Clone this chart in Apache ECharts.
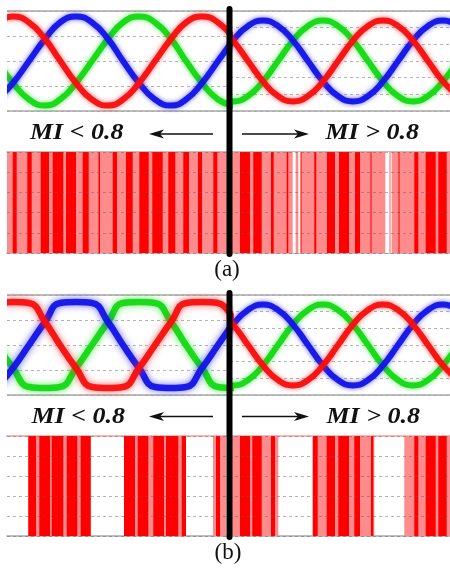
<!DOCTYPE html>
<html><head><meta charset="utf-8">
<script src="https://cdn.jsdelivr.net/npm/echarts@6/dist/echarts.min.js"></script>
<style>html,body{margin:0;padding:0;background:#fff}#c{width:450px;height:569px}</style>
</head><body><div id="c"></div>
<script>
// ---------- waveform samples (x = time position, y = per-unit value) ----------
const leftX  = [-3,13,29,45,60,76,92,108,123,139,155,171,186,202,218,234];
const rightX = [218,233,248,263,278,293,308,323,338,353,368,383,398,413,428,443,458];

// (a) MI < 0.8
const aLeftRed   = [0.77,0.89,0.77,0.44,0.01,-0.44,-0.77,-0.89,-0.77,-0.44,0.0,0.44,0.77,0.89,0.77,0.44];
const aLeftBlue  = [-0.77,-0.44,0.0,0.44,0.77,0.89,0.77,0.44,0.0,-0.44,-0.77,-0.89,-0.77,-0.44,0.0,0.44];
const aLeftGreen = [0.0,-0.44,-0.77,-0.89,-0.77,-0.44,0.0,0.44,0.77,0.89,0.77,0.44,0.0,-0.44,-0.77,-0.89];
// (a)/(b) MI > 0.8
const rightRed   = [0.84,0.49,0.0,-0.49,-0.84,-0.97,-0.84,-0.49,0.0,0.49,0.84,0.97,0.84,0.49,0.0,-0.49,-0.84];
const rightBlue  = [0.0,0.49,0.84,0.97,0.84,0.49,0.0,-0.49,-0.84,-0.97,-0.84,-0.49,0.0,0.49,0.84,0.97,0.84];
const rightGreen = [-0.84,-0.97,-0.84,-0.49,0.0,0.49,0.84,0.97,0.84,0.49,0.0,-0.49,-0.84,-0.97,-0.84,-0.49,0.0];
// (b) MI < 0.8 (flattened tops)
const bLeftRed   = [0.84,0.86,0.84,0.46,0.0,-0.46,-0.84,-0.86,-0.84,-0.46,0.0,0.46,0.84,0.86,0.84,0.46];
const bLeftBlue  = [-0.84,-0.46,0.0,0.46,0.84,0.86,0.84,0.46,0.0,-0.46,-0.84,-0.86,-0.84,-0.46,0.0,0.46];
const bLeftGreen = [0.0,-0.46,-0.84,-0.86,-0.84,-0.46,0.0,0.46,0.84,0.86,0.84,0.46,0.0,-0.46,-0.84,-0.86];

// ---------- switching pulse intervals [start, end] ----------
const aLight = [[7,450]];
const aDark = [[12.7,16.7],[27.3,31.7],[40.7,49],[52.7,63.3],[66,76],[82.7,88.7],[98.5,100],[112.7,117],
  [126,132.7],[139.3,148.7],[152.3,162.7],[168.3,175.3],[183.3,189],[198,202],[213.3,217.3],
  [240,250],[253.3,261.7],[271,273.7],[286.7,288.3],[300.5,301.5],[314.3,316.3],[327,335],[339,349],
  [355,360],[370.5,371.5],[398.5,399.5],[414.3,418.3],[425.7,435.7],[438.3,446.7]];
const aWhite = [[292.7,295.7],[298.3,300.3],[385.3,389.3],[390.7,391.7]];

const bLight = [[28.3,90.7],[124,186],[213,226],[232,278.3],[312.3,374.3],[404.3,450]];
const bDark = [[28.3,36],[39.3,50],[51.7,63.3],[66.7,77.3],[80.7,90.7],[124,135],[137.7,148.3],
  [153.3,164],[166,178.3],[181.7,186],[216,220],
  [240,250],[252.3,261.7],[271,275],[313,317.7],[326.7,335],[338.3,349],[354.3,360],[371,373.3],
  [414.3,418.3],[425.7,435.7],[438.3,446.7]];

// ---------- styling ----------
const RED = '#f50f0f', GREEN = '#14d814', BLUE = '#1414e6';
const SHADOW = {[RED]:'rgba(255,40,40,0.75)', [GREEN]:'rgba(40,230,40,0.75)', [BLUE]:'rgba(40,40,255,0.75)'};
const PINK = '#ff8c8c', DARK = '#ff0000';
const GRID_GREY = '#a8a8a8';

const grids = [
  {left:7,   width:223, top:11,  height:100},
  {left:230, width:220, top:11,  height:100},
  {left:7,   width:443, top:152, height:101},
  {left:7,   width:223, top:295, height:100},
  {left:230, width:220, top:295, height:100},
  {left:7,   width:443, top:436, height:100}
];
const axisSpec = [
  {xmin:7,   xmax:230, ymin:-1,   ymax:1,   iv:0.5, top:GRID_GREY, bar:false},
  {xmin:230, xmax:450, ymin:-1.2, ymax:1.2, iv:0.4, top:GRID_GREY, bar:false},
  {xmin:7,   xmax:450, ymin:0,    ymax:5,   iv:1,   top:GRID_GREY, bar:true},
  {xmin:7,   xmax:230, ymin:-1,   ymax:1,   iv:0.5, top:GRID_GREY, bar:false},
  {xmin:230, xmax:450, ymin:-1.2, ymax:1.2, iv:0.4, top:GRID_GREY, bar:false},
  {xmin:7,   xmax:450, ymin:0,    ymax:5,   iv:1,   top:'#ff9a9a', bar:true}
];

const xAxis = [], yAxis = [];
axisSpec.forEach((s, g) => {
  const common = {type:'value', gridIndex:g, min:s.xmin, max:s.xmax,
    axisLabel:{show:false}, axisTick:{show:false}, splitLine:{show:false}};
  xAxis.push(Object.assign({}, common, {position:'bottom', axisLine:{show:true, onZero:false, lineStyle:{color:GRID_GREY, width:1.5}}}));
  xAxis.push(Object.assign({}, common, {position:'top', axisLine:{show:true, onZero:false, lineStyle:{color:s.top, width:1.5}}}));
  yAxis.push({type:'value', gridIndex:g, min:s.ymin, max:s.ymax, interval:s.iv, z: s.bar ? 10 : 0,
    axisLine:{show:false}, axisTick:{show:false}, axisLabel:{show:false},
    splitLine:{show:true, lineStyle:{type:[3,3], width:1,
      color: s.bar ? 'rgba(90,90,90,0.45)' : '#b4b4b4'}}});
});

function wave(g, xs, ys, color, w, blur) {
  return {type:'line', xAxisIndex:2*g, yAxisIndex:g, data: xs.map((x, i) => [x, ys[i]]),
    smooth:0.5, symbol:'none', silent:true, animation:false, clip:true,
    lineStyle:{color:color, width:w, opacity:0.95, shadowBlur:blur, shadowColor:SHADOW[color]}};
}
function pulses(g, list, color, z) {
  return {type:'custom', xAxisIndex:2*g, yAxisIndex:g, z:z, silent:true, animation:false,
    data: list.map(d => [d[0], d[1], 0, 5]),
    encode:{x:[0,1], y:[2,3]},
    renderItem: function (params, api) {
      const p0 = api.coord([api.value(0), api.value(3)]);
      const p1 = api.coord([api.value(1), api.value(2)]);
      return {type:'rect', shape:{x:p0[0], y:p0[1], width:p1[0]-p0[0], height:p1[1]-p0[1]},
        style:{fill:color}};
    }};
}

const series = [
  wave(0, leftX, aLeftGreen, GREEN, 6, 5), wave(0, leftX, aLeftBlue, BLUE, 6, 5), wave(0, leftX, aLeftRed, RED, 6, 5),
  wave(1, rightX, rightGreen, GREEN, 6, 5), wave(1, rightX, rightBlue, BLUE, 6, 5), wave(1, rightX, rightRed, RED, 6, 5),
  pulses(2, aLight, PINK, 2), pulses(2, aDark, DARK, 3), pulses(2, aWhite, '#ffffff', 4),
  wave(3, leftX, bLeftGreen, GREEN, 6.5, 7), wave(3, leftX, bLeftBlue, BLUE, 6.5, 7), wave(3, leftX, bLeftRed, RED, 6.5, 7),
  wave(4, rightX, rightGreen, GREEN, 6, 5), wave(4, rightX, rightBlue, BLUE, 6, 5), wave(4, rightX, rightRed, RED, 6, 5),
  pulses(5, bLight, PINK, 2), pulses(5, bDark, DARK, 3)
];

function txt(text, x, y, font, align, sx) {
  return {type:'text', x:x, y:y, z:100, scaleX: sx || 1,
    style:{text:text, font:font, fill:'#111', align:align, textAlign:align,
      verticalAlign:'middle', textVerticalAlign:'middle'}};
}
const MIFONT = 'italic bold 23px "Liberation Serif"';
function arrow(x1, x2, y) {
  const dir = x2 > x1 ? 1 : -1;
  return [
    {type:'line', z:100, shape:{x1:x1, y1:y, x2:x2 - dir*8, y2:y}, style:{stroke:'#111', lineWidth:1.4}},
    {type:'polygon', z:100, shape:{points:[[x2,y],[x2-dir*15,y-4.5],[x2-dir*11,y],[x2-dir*15,y+4.5]]},
      style:{fill:'#111'}}
  ];
}
const graphic = [].concat(
  // clean left edge of waveform plots
  [{type:'rect', z:50, shape:{x:0, y:0, width:7, height:118}, style:{fill:'#fff'}},
   {type:'rect', z:50, shape:{x:0, y:285, width:7, height:116}, style:{fill:'#fff'}},
   {type:'line', z:100, shape:{x1:229.5, y1:9, x2:229.5, y2:254}, style:{stroke:'#000', lineWidth:6, lineCap:'round'}},
   {type:'line', z:100, shape:{x1:229.5, y1:293, x2:229.5, y2:537}, style:{stroke:'#000', lineWidth:6, lineCap:'round'}},
   txt('(a)', 227, 270, '23px "Liberation Serif"', 'center'),
   txt('(b)', 228, 553, '23px "Liberation Serif"', 'center'),
   txt('MI < 0.8', 30, 133.5, MIFONT, 'left', 1.13),
   txt('MI > 0.8', 325.5, 133.5, MIFONT, 'left', 1.13),
   txt('MI < 0.8', 31.5, 417.5, MIFONT, 'left', 1.13),
   txt('MI > 0.8', 326.5, 417, MIFONT, 'left', 1.13)],
  arrow(213, 149, 134), arrow(242, 309, 134),
  arrow(213, 149, 416.5), arrow(242, 309, 416.5)
);

const chart = echarts.init(document.getElementById('c'), null, {renderer:'canvas'});
chart.setOption({animation:false, backgroundColor:'#fff', grid:grids, xAxis:xAxis, yAxis:yAxis,
  series:series, graphic:graphic});
</script></body></html>
